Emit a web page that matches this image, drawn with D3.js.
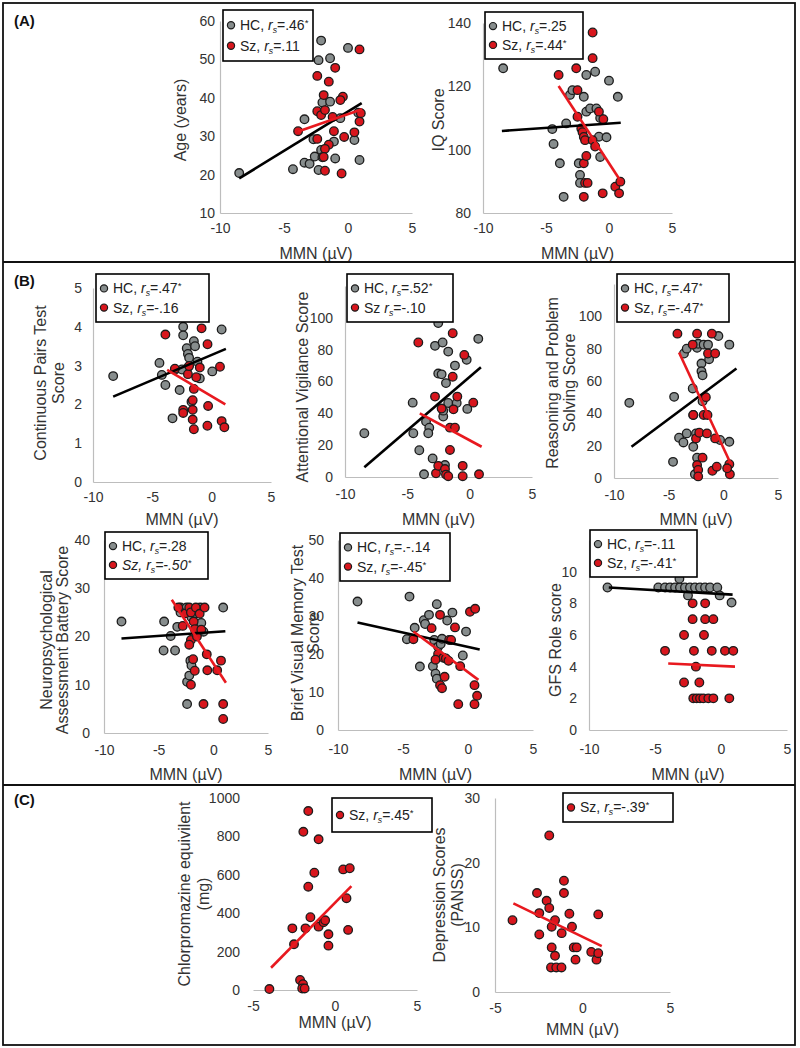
<!DOCTYPE html>
<html>
<head>
<meta charset="utf-8">
<script src="https://cdn.jsdelivr.net/npm/d3@7"></script>
<style>
  body { margin: 0; background: #fff; }
  svg { display: block; font-family: "Liberation Sans", Arial, sans-serif; }
</style>
</head>
<body>
<div id="container"></div>
<script>
// ---- tick labels ----
const mmnTicks = [-10, -5, 0, 5];
const mmnTicksC = [-5, 0, 5];
const ageTicks = [10, 20, 30, 40, 50, 60];
const iqTicks = [80, 100, 120, 140];
const cptTicks = [0, 1, 2, 3, 4, 5];
const scoreTicks = [0, 20, 40, 60, 80, 100];
const nabTicks = [0, 10, 20, 30, 40];
const bvmtTicks = [0, 10, 20, 30, 40, 50];
const gfsTicks = [0, 2, 4, 6, 8, 10];
const cpzTicks = [0, 200, 400, 600, 800, 1000];
const depTicks = [0, 10, 20, 30];

// ---- (A) age ----
const ageHC = [[-8.5,20.4],[-4.3,21.4],[-3.4,34.4],[-3.4,23.1],[-3.0,22.8],[-2.7,29.2],[-2.6,24.7],[-2.3,49.8],[-2.1,54.9],[-2.1,36],[-2.0,38.8],[-2.3,21.2],[-2.1,26.4],[-2.0,24.5],[-1.4,50.3],[-1.4,39],[-1.1,28.6],[-1.0,24.2],[-0.6,34.7],[0.0,53],[0.5,29],[0.9,23.8],[0.8,36.1]];
const ageSz = [[-3.9,31.3],[-2.4,45.7],[-2.4,36.5],[-2.4,29.3],[-2.1,35.5],[-1.9,40.7],[-1.8,36.8],[-1.5,44.2],[-1.0,47.8],[-1.1,31.3],[-1.5,27.8],[-1.8,26.7],[-1.9,24.6],[-1.8,21],[-0.5,20.3],[-0.4,40.3],[-0.6,39.4],[-0.3,29.8],[0.5,31],[0.9,33.8],[1.0,36],[0.9,52.6],[-1.2,35]];
const ageFitHC = [[-8.5,19],[1.07,38.6]];
const ageFitSz = [[-3.9,31.2],[1.1,37]];
const ageLegend = ["HC, rs=.46*", "Sz, rs=.11"];

// ---- (A) IQ ----
const iqHC = [[-8.4,125.7],[-4.5,106.5],[-4.4,101.8],[-3.9,95.7],[-3.6,85.1],[-3.4,108.3],[-3.1,117.3],[-2.9,118.8],[-2.4,95.7],[-2.3,92],[-2.3,89.5],[-2.0,116.7],[-1.8,112],[-1.8,123.6],[-1.1,124.6],[-1.5,113],[-1.0,113],[-0.8,104.1],[-0.7,110],[-0.7,97.7],[-0.2,103.9],[0,121.8],[0.7,116.7]];
const iqSz = [[-4.0,123.6],[-2.6,125.7],[-2.5,118.8],[-2.5,110.4],[-2.2,106.7],[-2.1,105.5],[-2.0,104],[-1.9,103],[-2.0,95.7],[-1.8,98],[-1.9,89.5],[-1.7,89.5],[-2.0,85.1],[-1.3,137],[-1.3,128.9],[-1.3,103],[-1.1,101],[-0.8,112],[-0.45,109.6],[-0.5,86.2],[0.5,88.3],[0.9,89.9],[0.8,86.2]];
const iqFitHC = [[-8.5,105.9],[0.93,108.5]];
const iqFitSz = [[-4.0,120.1],[0.87,90.4]];
const iqLegend = ["HC, rs=.25", "Sz, rs=.44*"];

// ---- (B) continuous pairs ----
const cptHC = [[-8.3,2.73],[-4.4,3.07],[-4.2,2.76],[-3.9,2.5],[-3.3,1.64],[-3.1,2.89],[-2.7,2.37],[-2.4,4.0],[-2.4,3.78],[-2.1,3.45],[-2.0,3.3],[-2.0,2.95],[-1.5,3.63],[-1.9,3.2],[-1.4,3.5],[-1.2,3.1],[-1.0,2.67],[0.05,2.85],[0.84,3.93],[-2.5,2.9],[-1.7,2.07]];
const cptSz = [[-3.9,3.8],[-3.1,2.92],[-2.4,1.86],[-2.4,1.78],[-2.0,2.78],[-1.9,2.99],[-1.6,2.11],[-1.6,1.86],[-1.6,1.61],[-1.5,1.36],[-1.3,2.7],[-0.85,3.96],[-1.0,2.95],[-0.35,3.55],[-0.3,1.96],[-0.36,1.45],[0.7,2.97],[0.84,1.57],[1.07,1.41],[-1.5,2.4]];
const cptFitHC = [[-8.3,2.2],[1.2,3.43]];
const cptFitSz = [[-3.75,2.89],[1.15,2.0]];
const cptLegend = ["HC, rs=.47*", "Sz, rs=-.16"];

// ---- (B) attentional vigilance ----
const avsHC = [[-8.45,27.5],[-4.57,46.7],[-4.52,27.5],[-4.04,16.8],[-3.66,1.7],[-3.5,34.8],[-3.24,31],[-3.32,27.5],[-2.97,11.7],[-2.78,82.4],[-2.52,96.7],[-2.52,65],[-2.25,64.5],[-2.17,84.5],[-2.12,38],[-2.12,41.7],[-1.98,7.5],[-1.9,59],[-1.72,78.8],[-1.72,46.5],[-1.18,70],[-1.04,46.5],[-0.24,73.6],[-0.19,42.8],[0.69,86.8]];
const avsSz = [[-4.12,84.5],[-2.78,50.5],[-2.7,2.3],[-2.52,7],[-2.25,43],[-1.98,5],[-1.9,1.5],[-1.72,0.5],[-1.58,31],[-1.36,90.3],[-1.36,63],[-1.58,17],[-1.18,31],[-1.3,42.5],[-0.99,50.5],[-0.56,7],[-0.56,0.5],[-0.43,76.7],[0.29,46.7],[0.75,1.7]];
const avsFitHC = [[-8.45,6.1],[0.9,69]];
const avsFitSz = [[-4.0,40],[0.96,19]];
const avsLegend = ["HC, rs=.52*", "Sz rs=-.10"];

// ---- (B) reasoning and problem solving ----
const rpsHC = [[-8.6,46.5],[-4.5,50.2],[-4.6,10],[-4.05,24.9],[-3.65,22],[-3.35,27.6],[-3.6,77],[-3.35,80],[-2.8,55.4],[-2.75,39],[-2.75,19.3],[-2.6,2.3],[-2.5,27.6],[-2.4,80.5],[-2.4,12.6],[-2.3,83],[-2.0,70.8],[-2.0,66],[-1.9,63.5],[-1.9,47.5],[-1.8,82.5],[-1.4,82.5],[-1.3,73.5],[-0.45,87.8],[-0.3,23.5],[0.55,22.4],[0.55,82.5]];
const rpsSz = [[-4.2,89.3],[-2.8,82.5],[-2.75,39],[-2.4,89.3],[-2.5,24.5],[-2.4,8],[-2.3,5],[-2.3,1],[-1.9,12.6],[-2.2,28],[-1.6,50],[-1.8,39],[-1.45,39],[-1.5,27.6],[-1.4,77],[-1.05,89.3],[-0.75,77],[-0.75,24.5],[-1.0,4.5],[-0.6,7],[0.55,8.5],[0.6,2.3],[0.35,6]];
const rpsFitHC = [[-8.4,19.3],[1.2,67.7]];
const rpsFitSz = [[-4.05,77.6],[0.7,8.5]];
const rpsLegend = ["HC, rs=.47*", "Sz, rs=-.47*"];

// ---- (B) NAB ----
const nabHC = [[-8.4,23.1],[-4.5,23.1],[-4.55,17.1],[-3.9,20.1],[-3.5,17.1],[-3.3,22],[-3.0,26],[-2.45,26],[-2.4,10.6],[-2.2,11.9],[-2.4,6],[-2.1,15],[-2.0,14],[-2.0,24],[-1.6,24.8],[-1.2,26],[-1.1,22.8],[-0.9,21],[0.9,26],[-3.0,25]];
const nabSz = [[-3.2,26],[-2.8,22.2],[-2.55,24.8],[-2.2,26],[-2.05,25],[-2.05,19.3],[-2.2,18.3],[-2.05,10],[-1.8,23.1],[-1.7,21.5],[-1.6,26],[-1.5,20],[-1.7,12.9],[-1.85,15.3],[-1.25,24.7],[-1.1,21.4],[-0.8,26],[-0.6,16.3],[-0.55,13],[-0.9,6],[0.7,15],[0.35,13],[0.9,6],[0.9,2.9]];
const nabFitHC = [[-8.4,19.6],[1.1,21.1]];
const nabFitSz = [[-3.8,27.6],[1.15,10.4]];
const nabLegend = ["HC, rs=.28", "Sz, rs=-.50*"];

// ---- (B) brief visual memory ----
const bvmtHC = [[-8.5,33.8],[-4.5,35.1],[-4.7,23.9],[-4.1,26.9],[-3.7,16.7],[-3.4,28.9],[-3.3,27.9],[-3.0,30.3],[-2.6,23.7],[-2.7,16.8],[-2.5,14.8],[-2.4,13.5],[-2.4,33.1],[-2.3,21.9],[-2.1,22.6],[-2.0,24],[-1.6,28.8],[-1.2,30.9],[-0.4,19.6],[-0.15,25.9]];
const bvmtSz = [[-4.2,23.9],[-2.8,26.8],[-2.15,30.3],[-2.3,20],[-2.15,11.8],[-2.0,11],[-1.9,19],[-1.8,14],[-1.7,18.8],[-1.5,18.2],[-1.45,23.7],[-1.3,23.7],[-1.0,27],[-0.75,6.8],[-0.6,16.8],[0.15,31.1],[0.55,31.9],[0.5,11.8],[0.7,9],[0.5,6.8],[-2.5,18.5]];
const bvmtFitHC = [[-8.5,28.3],[0.9,21.2]];
const bvmtFitSz = [[-4.2,25.9],[0.8,13.2]];
const bvmtLegend = ["HC, rs=.-.14", "Sz, rs=-.45*"];

// ---- (B) GFS role ----
const gfsHC = [[-8.6,9.0],[-4.75,9],[-4.24,9],[-3.86,9],[-3.48,9],[-3.11,9],[-2.73,9],[-2.35,9],[-1.97,9],[-1.59,9],[-1.21,9],[-0.83,9],[-0.28,9],[-3.15,9.55],[-2.5,8.5],[-0.1,8.5],[0.8,8.05]];
const gfsSz = [[-2.15,8],[-1.2,8],[-2.15,7],[-1.2,7],[-0.58,7],[-2.8,6],[-1.29,6],[-4.24,5],[-2.05,5],[-0.7,5],[0.3,5],[0.93,5],[-1.9,4],[-2.8,3],[-1.64,3],[-2.1,2],[-1.84,2],[-1.59,2],[-1.34,2],[-0.96,2],[-0.58,2],[0.63,2]];
const gfsFitHC = [[-8.5,9.0],[0.88,8.55]];
const gfsFitSz = [[-4.0,4.2],[1.06,4.0]];
const gfsLegend = ["HC, rs=-.11", "Sz, rs=-.41*"];

// ---- (C) chlorpromazine ----
const cpzSz = [[-1.63,932],[-1.93,824],[-1.0,785],[-1.26,611],[-1.63,538],[0.5,628],[0.9,634],[0.7,478],[0.8,313],[-1.5,379],[-2.6,321],[-2.5,238],[-1.8,321],[-1.0,330],[-0.7,353],[-0.6,363],[-0.4,290],[-0.4,231],[-2.13,52],[-1.95,30],[-2.0,8],[-1.85,8],[-4.0,5]];
const cpzFitSz = [[-3.9,116],[1.0,541]];
const cpzLegend = ["Sz, rs=.45*"];

// ---- (C) depression ----
const depSz = [[-4.0,11.1],[-1.9,24.2],[-2.6,15.3],[-2.47,12.2],[-2.47,8.9],[-2.05,14.1],[-1.9,13],[-1.76,10.1],[-1.57,11.1],[-1.76,6.9],[-1.57,5.6],[-1.8,3.8],[-1.5,3.8],[-1.2,3.8],[-1.19,9.1],[-1.06,17.2],[-1.06,15.3],[-0.75,12.1],[-0.6,10.1],[-0.5,6.9],[-0.33,6.9],[-0.4,5.0],[0.5,6.2],[0.8,5],[0.9,6],[0.9,12]];
const depFitSz = [[-3.95,13.7],[1.1,7.1]];
const depLegend = ["Sz, rs=-.39*"];

// ---- layout ----
const width = 800;
const height = 1048;
const hcColor = "#878d8d";
const szColor = "#d8161d";
const lineRed = "#e8191f";
const axisColor = "#bdbdbd";

const charts = [
  { hc: ageHC, sz: ageSz, fitHC: ageFitHC, fitSz: ageFitSz, legend: ageLegend,
    xDomain: [-10, 5], xTicks: mmnTicks, yDomain: [10, 60], yTicks: ageTicks,
    box: [220, 412, 21, 213], tickGap: 5, xPad: 10, xTitleY: 259,
    yTitle: ["Age (years)"], yTitleX: [180], yTitleY: 120, legendBox: [223, 10, 90, 51] },
  { hc: iqHC, sz: iqSz, fitHC: iqFitHC, fitSz: iqFitSz, legend: iqLegend,
    xDomain: [-10, 5], xTicks: mmnTicks, yDomain: [80, 140], yTicks: iqTicks,
    box: [483, 672, 23, 213], tickGap: 12, xPad: 10, xTitleY: 259,
    yTitle: ["IQ Score"], yTitleX: [438], yTitleY: 120, legendBox: [485, 12, 98, 47] },
  { hc: cptHC, sz: cptSz, fitHC: cptFitHC, fitSz: cptFitSz, legend: cptLegend,
    xDomain: [-10, 5], xTicks: mmnTicks, yDomain: [0, 5], yTicks: cptTicks,
    box: [93, 271, 288, 482], tickGap: 11, xPad: 10, xTitleY: 525,
    yTitle: ["Continuous Pairs Test", "Score"], yTitleX: [40, 58], yTitleY: 383, legendBox: [96, 274, 113, 48] },
  { hc: avsHC, sz: avsSz, fitHC: avsFitHC, fitSz: avsFitSz, legend: avsLegend,
    xDomain: [-10, 5], xTicks: mmnTicks, yDomain: [0, 120], yTicks: scoreTicks,
    box: [345, 532, 286, 477], tickGap: 12, xPad: 12, xTitleY: 525,
    yTitle: ["Attentional Vigilance Score"], yTitleX: [302], yTitleY: 387, legendBox: [347, 274, 106, 48] },
  { hc: rpsHC, sz: rpsSz, fitHC: rpsFitHC, fitSz: rpsFitSz, legend: rpsLegend,
    xDomain: [-10, 5], xTicks: mmnTicks, yDomain: [0, 120], yTicks: scoreTicks,
    box: [614, 778, 284, 478], tickGap: 12, xPad: 12, xTitleY: 525,
    yTitle: ["Reasoning and Problem", "Solving Score"], yTitleX: [552, 569], yTitleY: 383, legendBox: [617, 274, 112, 48] },
  { hc: nabHC, sz: nabSz, fitHC: nabFitHC, fitSz: nabFitSz, legend: nabLegend, italic: true,
    xDomain: [-10, 5], xTicks: mmnTicks, yDomain: [0, 40], yTicks: nabTicks,
    box: [104, 268, 540, 733], tickGap: 14, xPad: 12, xTitleY: 780,
    yTitle: ["Neuropsychological", "Assessment Battery Score"], yTitleX: [46, 62], yTitleY: 640, legendBox: [105, 532, 103, 47] },
  { hc: bvmtHC, sz: bvmtSz, fitHC: bvmtFitHC, fitSz: bvmtFitSz, legend: bvmtLegend,
    xDomain: [-10, 5], xTicks: mmnTicks, yDomain: [0, 50], yTicks: bvmtTicks,
    box: [338, 533, 540, 730], tickGap: 14, xPad: 14, xTitleY: 780,
    yTitle: ["Brief Visual Memory Test", "Score"], yTitleX: [297, 313], yTitleY: 633, legendBox: [340, 533, 110, 48] },
  { hc: gfsHC, sz: gfsSz, fitHC: gfsFitHC, fitSz: gfsFitSz, legend: gfsLegend,
    xDomain: [-10, 5], xTicks: mmnTicks, yDomain: [0, 12], yTicks: gfsTicks,
    box: [589, 787, 540, 730], tickGap: 12, xPad: 14, xTitleY: 780,
    yTitle: ["GFS Role score"], yTitleX: [555], yTitleY: 640, legendBox: [590, 530, 107, 47] },
  { hc: [], sz: cpzSz, fitHC: null, fitSz: cpzFitSz, legend: cpzLegend, noYLine: true,
    xDomain: [-5, 5], xTicks: mmnTicksC, yDomain: [0, 1000], yTicks: cpzTicks,
    box: [253, 417, 798, 990], tickGap: 13, xPad: 11, xTitleY: 1028,
    yTitle: ["Chlorpromazine equivilent", "(mg)"], yTitleX: [184, 203], yTitleY: 894, legendBox: [332, 798, 100, 34] },
  { hc: [], sz: depSz, fitHC: null, fitSz: depFitSz, legend: depLegend,
    xDomain: [-5, 5], xTicks: mmnTicksC, yDomain: [0, 30], yTicks: depTicks,
    box: [495, 670, 798, 992], tickGap: 15, xPad: 11, xTitleY: 1035,
    yTitle: ["Depression Scores", "(PANSS)"], yTitleX: [439, 457], yTitleY: 895, legendBox: [563, 793, 110, 29] }
];

const svg = d3.select("#container").append("svg")
  .attr("width", width)
  .attr("height", height)
  .attr("viewBox", [0, 0, width, height]);

svg.append("rect").attr("width", width).attr("height", height).attr("fill", "#fff");

// legend text: "HC, rs=.46*" -> HC, r(sub s)=.46 (raised *)
function legendText(sel, label, italic) {
  const m = label.match(/^(.*?)rs(=[^*]*)(\*?)$/);
  if (italic) sel.attr("font-style", "italic");
  sel.append("tspan").text(m[1]);
  sel.append("tspan").attr("font-style", "italic").text("r");
  sel.append("tspan").attr("font-style", "italic").attr("font-size", "0.62em").attr("dy", 3).text("s");
  sel.append("tspan").attr("dy", -3).text(m[2]);
  if (m[3]) sel.append("tspan").attr("font-size", "0.7em").attr("dy", -4).text("*");
}

function drawChart(c) {
  const [left, right, top, bottom] = c.box;
  const x = d3.scaleLinear().domain(c.xDomain).range([left, right]);
  const y = d3.scaleLinear().domain(c.yDomain).range([bottom, top]);
  const g = svg.append("g");

  // axes (plain hyphen minus like the original)
  const xAxis = g.append("g")
    .attr("transform", `translate(0,${bottom})`)
    .call(d3.axisBottom(x).tickValues(c.xTicks).tickSize(0).tickPadding(c.xPad).tickFormat(d => String(d)));
  const yAxis = g.append("g")
    .attr("transform", `translate(${left},0)`)
    .call(d3.axisLeft(y).tickValues(c.yTicks).tickSize(0).tickPadding(c.tickGap).tickFormat(d => String(d)));
  [xAxis, yAxis].forEach(a => {
    a.select(".domain").attr("stroke", axisColor).attr("stroke-width", 1.2);
    a.selectAll("text").attr("font-size", 14).attr("fill", "#333")
      .attr("font-family", "'Liberation Sans', Arial, sans-serif");
  });
  if (c.noYLine) yAxis.select(".domain").remove();

  // points
  const pts = g.append("g").attr("stroke", "#1c1c1c").attr("stroke-width", 1.3);
  pts.selectAll(".hc").data(c.hc).join("circle")
    .attr("class", "hc")
    .attr("cx", d => x(d[0])).attr("cy", d => y(d[1])).attr("r", 4.3)
    .attr("fill", hcColor);
  pts.selectAll(".sz").data(c.sz).join("circle")
    .attr("class", "sz")
    .attr("cx", d => x(d[0])).attr("cy", d => y(d[1])).attr("r", 4.3)
    .attr("fill", szColor);

  // trend lines
  const line = d3.line().x(d => x(d[0])).y(d => y(d[1]));
  if (c.fitHC) g.append("path").attr("d", line(c.fitHC)).attr("stroke", "#000").attr("stroke-width", 2.6).attr("fill", "none");
  g.append("path").attr("d", line(c.fitSz)).attr("stroke", lineRed).attr("stroke-width", 2.6).attr("fill", "none");

  // axis titles
  g.append("text")
    .attr("x", (left + right) / 2)
    .attr("y", c.xTitleY)
    .attr("text-anchor", "middle")
    .attr("font-size", 16)
    .attr("fill", "#333")
    .text("MMN (µV)");

  c.yTitle.forEach((t, i) => {
    g.append("text")
      .attr("transform", `translate(${c.yTitleX[i]},${c.yTitleY}) rotate(-90)`)
      .attr("text-anchor", "middle")
      .attr("dominant-baseline", "central")
      .attr("font-size", 16)
      .attr("fill", "#333")
      .text(t);
  });

  // legend
  const [lx, ly, lw, lh] = c.legendBox;
  const lg = g.append("g");
  lg.append("rect").attr("x", lx).attr("y", ly).attr("width", lw).attr("height", lh)
    .attr("fill", "#fff").attr("stroke", "#000").attr("stroke-width", 1.6);
  const colors = c.legend.length === 2 ? [hcColor, szColor] : [szColor];
  c.legend.forEach((label, i) => {
    const cy = c.legend.length === 2 ? ly + lh * (i === 0 ? 0.3 : 0.7) : ly + lh / 2;
    lg.append("circle").attr("cx", lx + 8).attr("cy", cy).attr("r", 3.6)
      .attr("fill", colors[i]).attr("stroke", "#1c1c1c").attr("stroke-width", 1.2);
    const t = lg.append("text").attr("x", lx + 17).attr("y", cy)
      .attr("dy", "0.35em").attr("font-size", 14).attr("fill", "#222");
    legendText(t, label, c.italic && i === 1);
  });
}

charts.forEach(drawChart);

// panel frames and labels
const frame = svg.append("g").attr("fill", "none").attr("stroke", "#111").attr("stroke-width", 1.8);
frame.append("rect").attr("x", 3).attr("y", 3).attr("width", 792).attr("height", 1042);
frame.append("line").attr("x1", 3).attr("x2", 795).attr("y1", 262).attr("y2", 262);
frame.append("line").attr("x1", 3).attr("x2", 795).attr("y1", 785).attr("y2", 785);

const panelLabels = ["(A)", "(B)", "(C)"];
const panelLabelY = [21, 281, 800];
svg.append("g").selectAll("text").data(panelLabels).join("text")
  .attr("x", 14)
  .attr("y", (d, i) => panelLabelY[i])
  .attr("dy", "0.35em")
  .attr("font-size", 15)
  .attr("font-weight", "bold")
  .attr("fill", "#111")
  .text(d => d);
</script>
</body>
</html>
